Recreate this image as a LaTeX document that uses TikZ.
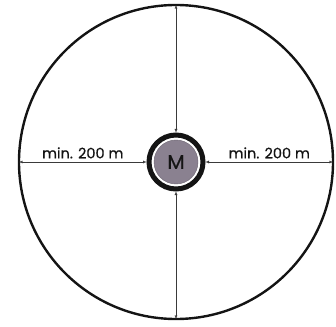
\documentclass[tikz,border=0pt]{standalone}
\usepackage{fontspec}
\setmainfont{Poppins}
\newfontfamily\labelfont{Poppins}[FakeBold=0.6]
\usepackage{tikz}
\usetikzlibrary{arrows.meta,positioning}
\definecolor{ink}{HTML}{141414}
\definecolor{line}{HTML}{3A3A3A}
\definecolor{mfill}{HTML}{8A8190}

\begin{document}
\begin{tikzpicture}[x=1pt,y=1pt,>={Latex[length=3.5pt,width=3pt]}]
  \useasboundingbox (-176,-164) rectangle (160,162);
  \node[circle,draw=ink,line width=2.4pt,outer sep=0pt,minimum size=314pt] (zone) at (0,0) {};
  \node[circle,draw=ink,line width=5pt,fill=white,minimum size=54pt] (ring) at (0,0) {};
  \node[circle,fill=mfill,draw=mfill!80!black,thin,minimum size=44pt,text=ink,font=\labelfont\fontsize{20}{22}\selectfont] (m) at (0,0) {M};
  \draw[<->,line,thin] (zone.north) -- (ring.north);
  \draw[<->,line,thin] (zone.south) -- (ring.south);
  \draw[<->,line,thin] (zone.west) -- node[above,text=ink,font=\labelfont\fontsize{14.5}{16}\selectfont] {min. 200 m} (ring.west);
  \draw[<->,line,thin] (ring.east) -- node[above,text=ink,font=\labelfont\fontsize{14.5}{16}\selectfont] {min. 200 m} (zone.east);
\end{tikzpicture}
\end{document}
